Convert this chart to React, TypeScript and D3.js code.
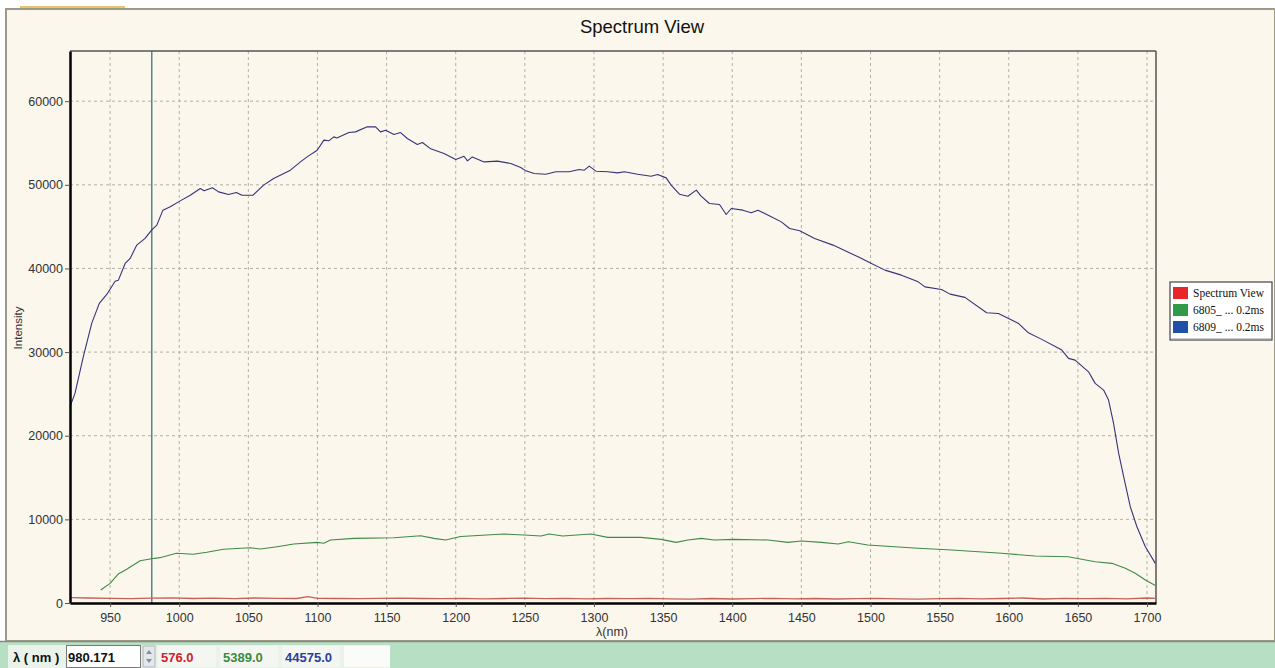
import { useEffect, useMemo, useRef } from "react";
import * as d3 from "d3";

const WIDTH = 1275;
const HEIGHT = 668;
const MARGIN = { top: 51, right: 119, bottom: 65, left: 70 };

const TITLE = "Spectrum View";
const X_LABEL = "λ(nm)";
const Y_LABEL = "Intensity";
const X_TICKS = [950, 1000, 1050, 1100, 1150, 1200, 1250, 1300, 1350, 1400, 1450, 1500, 1550, 1600, 1650, 1700];
const Y_TICKS = [0, 10000, 20000, 30000, 40000, 50000, 60000];
const CURSOR_NM = 980.171;

const LEGEND_NAMES = ["Spectrum View", "6805_ ... 0.2ms", "6809_ ... 0.2ms"];
const LEGEND_SWATCHES = ["#e8262a", "#2f9a48", "#2250a8"];
const READOUT = ["576.0", "5389.0", "44575.0"];

// red series (dark reference)
const redNm = [921, 935, 950, 965, 980, 995, 1010, 1025, 1040, 1055, 1070, 1085, 1093, 1100, 1115, 1130, 1145, 1160, 1175, 1190, 1205, 1220, 1235, 1250, 1265, 1280, 1295, 1310, 1325, 1340, 1355, 1370, 1385, 1400, 1415, 1430, 1445, 1460, 1475, 1490, 1505, 1520, 1535, 1550, 1565, 1580, 1595, 1610, 1625, 1640, 1655, 1670, 1685, 1700, 1706];
const redVal = [640, 600, 560, 520, 576, 610, 540, 590, 520, 600, 560, 540, 760, 560, 540, 520, 560, 590, 540, 520, 560, 500, 540, 580, 520, 560, 500, 540, 520, 560, 500, 470, 540, 480, 520, 560, 500, 540, 480, 520, 560, 500, 470, 530, 560, 500, 540, 600, 480, 560, 520, 560, 500, 600, 560];

// green series 6805
const greenNm = [943.2, 950, 956, 962, 971.7, 980, 986, 998, 1010, 1020, 1032, 1051.4, 1058.7, 1070.8, 1082.8, 1099.8, 1104.6, 1109.4, 1126.3, 1155.3, 1174.6, 1184.3, 1192.7, 1203.6, 1234.9, 1249.5, 1261.6, 1267.6, 1277.3, 1297.8, 1309.9, 1334, 1348.5, 1359.4, 1368, 1377.5, 1387, 1401.6, 1425.8, 1440.3, 1450, 1464.5, 1476.6, 1484, 1498, 1534.5, 1558.7, 1594.9, 1619, 1643, 1662.5, 1674.6, 1684.3, 1691.5, 1698.8, 1706];
const greenVal = [1550, 2350, 3470, 4030, 5060, 5300, 5420, 5940, 5820, 6060, 6420, 6610, 6450, 6730, 7050, 7250, 7140, 7530, 7730, 7800, 8040, 7730, 7530, 7950, 8250, 8130, 8010, 8250, 8010, 8250, 7850, 7850, 7610, 7250, 7530, 7730, 7530, 7610, 7530, 7250, 7410, 7250, 7050, 7330, 6930, 6540, 6330, 5940, 5620, 5530, 4940, 4740, 4150, 3550, 2750, 2100];

// blue series 6809
const blueNm = [921, 924.6, 930.6, 936.7, 942.2, 947.6, 953.6, 956, 960.9, 964.5, 969.3, 975.3, 980, 983.8, 988.2, 993.5, 1000.7, 1008, 1015.2, 1018, 1024, 1028.5, 1035.7, 1041.3, 1045.4, 1053.4, 1061, 1068.3, 1080.4, 1087.7, 1092.5, 1099.8, 1104.6, 1108.2, 1111.8, 1114, 1122.7, 1127.5, 1136, 1142, 1145.6, 1149.3, 1155.3, 1160.1, 1165, 1172.2, 1175.9, 1181.9, 1191.5, 1200, 1206, 1208.5, 1212, 1220.5, 1230.2, 1239.8, 1247, 1250.7, 1256.7, 1265.2, 1272.4, 1282, 1289.3, 1293, 1296.6, 1301.4, 1310, 1317, 1322, 1331.6, 1341.3, 1346, 1352.2, 1355.8, 1361.8, 1367.9, 1374, 1377.5, 1383.5, 1390.8, 1395.6, 1399.3, 1407.7, 1413.7, 1418.6, 1428.2, 1435.5, 1441.5, 1448.8, 1459.6, 1472.9, 1491, 1500.7, 1510.4, 1522.4, 1534.5, 1539.4, 1551.4, 1557.5, 1568.3, 1584, 1592.5, 1607, 1614.2, 1623.9, 1638.4, 1643.2, 1648, 1657.7, 1662.5, 1668.6, 1672.2, 1675.8, 1679.5, 1683.1, 1687.9, 1692.7, 1698.8, 1706];
const blueVal = [23460, 25060, 29440, 33430, 35820, 36890, 38480, 38600, 40600, 41200, 42790, 43590, 44575, 45180, 46970, 47370, 48080, 48760, 49560, 49280, 49640, 49160, 48840, 49090, 48760, 48760, 49960, 50750, 51750, 52740, 53340, 54140, 55340, 55260, 55730, 55610, 56260, 56330, 56930, 56930, 56330, 56530, 56010, 56250, 55540, 54820, 55060, 54300, 53740, 53030, 53420, 52860, 53340, 52740, 52830, 52550, 52070, 51670, 51350, 51270, 51560, 51560, 51830, 51750, 52230, 51630, 51560, 51430, 51560, 51270, 51030, 51230, 50830, 49960, 48880, 48640, 49360, 48640, 47770, 47650, 46450, 47170, 46970, 46650, 46970, 46170, 45570, 44780, 44500, 43590, 42790, 41390, 40600, 39800, 39200, 38400, 37800, 37490, 36930, 36540, 34700, 34620, 33430, 32300, 31520, 30240, 29250, 29040, 27640, 26260, 25460, 24260, 21480, 17890, 15100, 11510, 9120, 6730, 4740];

const SERIES = [
  { nm: redNm, val: redVal, color: "#c8605a", width: 1.3 },
  { nm: greenNm, val: greenVal, color: "#3f8a46", width: 1.1 },
  { nm: blueNm, val: blueVal, color: "#34347a", width: 1.1 },
];

export default function App() {
  const axesRef = useRef<SVGGElement>(null);
  const boundsWidth = WIDTH - MARGIN.left - MARGIN.right;
  const plotBottom = 603 - MARGIN.top;

  const xScale = useMemo(() => d3.scaleLinear().domain([921, 1706.5]).range([0, boundsWidth]), [boundsWidth]);
  const yScale = useMemo(() => d3.scaleLinear().domain([0, 66000]).range([plotBottom, 0]), [plotBottom]);

  useEffect(() => {
    const g = d3.select(axesRef.current);
    g.selectAll("*").remove();

    const xAxis = g
      .append("g")
      .attr("transform", `translate(0,${plotBottom})`)
      .call(d3.axisBottom(xScale).tickValues(X_TICKS).tickSize(4).tickSizeOuter(0).tickFormat(d3.format("d")));
    const yAxis = g
      .append("g")
      .call(d3.axisLeft(yScale).tickValues(Y_TICKS).tickSize(5).tickSizeOuter(0).tickFormat(d3.format("d")));

    [xAxis, yAxis].forEach((a) => {
      a.select(".domain").attr("stroke", "#000").attr("stroke-width", 2.5);
      a.selectAll(".tick line").attr("stroke", "#555");
      a.selectAll(".tick text")
        .attr("fill", "#333")
        .style("font-family", "'Liberation Sans', Arial, sans-serif")
        .style("font-size", "12.5px");
    });
    xAxis.selectAll(".tick text").attr("dy", "0.95em");
    yAxis.selectAll(".tick text").attr("x", -7);
  }, [xScale, yScale, plotBottom]);

  const lineGen = (nm: number[], val: number[]) =>
    d3
      .line<number>()
      .x((_, i) => xScale(nm[i]))
      .y((v) => yScale(v))(val) ?? "";

  return (
    <svg
      width={WIDTH}
      height={HEIGHT}
      style={{ position: "absolute", left: 0, top: 0, display: "block" }}
      fontFamily="'Liberation Sans', Arial, sans-serif"
    >
      <rect x={0} y={0} width={WIDTH} height={HEIGHT} fill="#ffffff" />
      {/* panel */}
      <rect x={6} y={9} width={WIDTH - 6} height={632} fill="#fcf7ec" stroke="#9c9a86" strokeWidth={2} />
      <line x1={20} x2={125} y1={7} y2={7} stroke="#e9c46a" strokeWidth={2} />
      <text x={642} y={33} textAnchor="middle" fontSize={18.5} fill="#111">{TITLE}</text>

      <g transform={`translate(${MARGIN.left},${MARGIN.top})`}>
        {X_TICKS.map((t) => (
          <line key={"gx" + t} x1={xScale(t)} x2={xScale(t)} y1={0} y2={plotBottom} stroke="#b2b0a8" strokeDasharray="3,3" />
        ))}
        {Y_TICKS.filter((t) => t > 0).map((t) => (
          <line key={"gy" + t} x1={0} x2={boundsWidth} y1={yScale(t)} y2={yScale(t)} stroke="#b2b0a8" strokeDasharray="3,3" />
        ))}
        <line x1={0} x2={boundsWidth} y1={0} y2={0} stroke="#555" strokeWidth={1.5} />
        <line x1={boundsWidth} x2={boundsWidth} y1={0} y2={plotBottom} stroke="#555" strokeWidth={1.5} />
        <line x1={xScale(CURSOR_NM)} x2={xScale(CURSOR_NM)} y1={0} y2={plotBottom} stroke="#2b6a70" strokeWidth={1.2} />
        {SERIES.map((s, i) => (
          <path key={i} d={lineGen(s.nm, s.val)} fill="none" stroke={s.color} strokeWidth={s.width} strokeLinejoin="round" />
        ))}
        <g ref={axesRef} />
      </g>

      <text x={612} y={636} textAnchor="middle" fontSize={12.5} fill="#333">{X_LABEL}</text>
      <text transform="translate(22,328) rotate(-90)" textAnchor="middle" fontSize={11.5} fill="#333">{Y_LABEL}</text>

      {/* legend */}
      <g transform="translate(1170,282)">
        <rect x={0} y={0} width={102} height={58} fill="#ffffff" stroke="#444" strokeWidth={1.2} />
        <line x1={1} x2={101} y1={57} y2={57} stroke="#999" />
        {LEGEND_NAMES.map((n, i) => (
          <g key={n} transform={`translate(3,${5 + i * 17})`}>
            <rect x={0} y={0} width={15} height={12} fill={LEGEND_SWATCHES[i]} />
            <text x={20} y={10} fontFamily="'Liberation Serif', 'Times New Roman', serif" fontSize={11.5} fill="#111">{n}</text>
          </g>
        ))}
      </g>

      {/* status bar */}
      <rect x={0} y={641} width={WIDTH} height={27} fill="#b7dfc3" />
      <line x1={0} x2={WIDTH} y1={641.5} y2={641.5} stroke="#8a8a80" strokeWidth={1.5} />
      <rect x={8} y={645} width={382} height={23} fill="#eaf3ea" />
      <text x={13} y={662} fontSize={13} fontWeight="bold" fill="#111">λ ( nm )</text>
      <rect x={66.5} y={645.5} width={74} height={22} fill="#fff" stroke="#7a7a7a" />
      <text x={68} y={662} fontSize={13} fontWeight="bold" fill="#111">{CURSOR_NM}</text>
      <rect x={143} y={646} width={12} height={21} fill="#e4e8ec" stroke="#b0b4b8" />
      <path d="M146,654 L149,650 L152,654 Z M146,659 L149,663 L152,659 Z" fill="#8090a0" />
      {READOUT.map((r, i) => (
        <g key={r}>
          <rect x={158 + i * 62} y={646} width={58} height={21} fill="#f4f7f1" />
          <text x={161 + i * 62} y={662} fontSize={13} fontWeight="bold" fill={["#d02030", "#3a8a40", "#2a3ea0"][i]}>{r}</text>
        </g>
      ))}
      <rect x={344} y={646} width={46} height={21} fill="#fbfcfa" />
    </svg>
  );
}
